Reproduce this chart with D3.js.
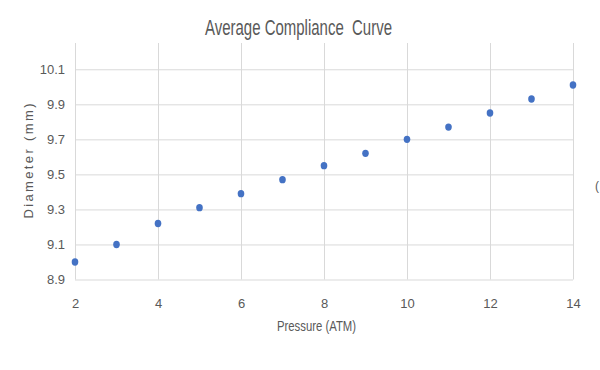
<!DOCTYPE html>
<html>
<head>
<meta charset="utf-8">
<script src="https://cdn.jsdelivr.net/npm/d3@7"></script>
<style>
  body { margin: 0; background: #fff; }
  text { font-family: "Liberation Sans Narrow", "Liberation Sans", sans-serif; fill: #595959; }
</style>
</head>
<body>
<div id="canvas"></div>
<script>
"use strict"

let drawingWidth = 600;
let drawingHeight = 370;

// chart data
let pressure = [2, 3, 4, 5, 6, 7, 8, 9, 10, 11, 12, 13, 14];
let diameter = [9.00, 9.10, 9.22, 9.31, 9.39, 9.47, 9.55, 9.62, 9.70, 9.77, 9.85, 9.93, 10.01];
let xTicks = [2, 4, 6, 8, 10, 12, 14];
let yTicks = [8.9, 9.1, 9.3, 9.5, 9.7, 9.9, 10.1];

let plotLeft = 75, plotRight = 573, plotTop = 43, plotBottom = 279.5;

let drawing = d3.select("#canvas")
    .append("svg")
    .attr("width", drawingWidth)
    .attr("height", drawingHeight);

drawing.append("rect")
    .attr("width", drawingWidth)
    .attr("height", drawingHeight)
    .attr("fill", "white");

let x = d3.scaleLinear().domain([2, 14]).range([plotLeft, plotRight]);
let y = d3.scaleLinear().domain([8.9, 10.25]).range([plotBottom, plotTop]);

/* vertical gridlines + x labels */
let xAxis = drawing.append("g")
    .attr("transform", "translate(0," + plotBottom + ")")
    .call(d3.axisBottom(x)
        .tickValues(xTicks)
        .tickSizeInner(-(plotBottom - plotTop))
        .tickSizeOuter(0)
        .tickPadding(19)
        .tickFormat(d3.format("d")));

/* horizontal gridlines + y labels */
let yAxis = drawing.append("g")
    .attr("transform", "translate(" + plotLeft + ",0)")
    .call(d3.axisLeft(y)
        .tickValues(yTicks)
        .tickSizeInner(-(plotRight - plotLeft))
        .tickSizeOuter(0)
        .tickPadding(10)
        .tickFormat(d3.format(".1f")));

drawing.selectAll(".domain").remove();
drawing.selectAll(".tick line")
    .attr("stroke", "#d9d9d9")
    .attr("stroke-width", 1);
drawing.selectAll(".tick text")
    .attr("font-size", 13)
    .attr("font-family", "'Liberation Sans Narrow', sans-serif")
    .attr("fill", "#595959");

/* points */
drawing.selectAll("ellipse.pt")
    .data(pressure)
    .enter()
    .append("ellipse")
    .attr("class", "pt")
    .attr("cx", (d) => x(d))
    .attr("cy", (d, i) => y(diameter[i]))
    .attr("rx", 3.3)
    .attr("ry", 3.7)
    .attr("fill", "#4472c4");

/* title and axis titles */
drawing.append("text")
    .attr("x", 298.5)
    .attr("y", 35)
    .attr("text-anchor", "middle")
    .attr("font-size", 22)
    .attr("textLength", 187)
    .attr("lengthAdjust", "spacingAndGlyphs")
    .attr("xml:space", "preserve")
    .text("Average Compliance  Curve");

drawing.append("text")
    .attr("x", 316.5)
    .attr("y", 331)
    .attr("text-anchor", "middle")
    .attr("font-size", 14)
    .attr("textLength", 79)
    .attr("lengthAdjust", "spacingAndGlyphs")
    .text("Pressure (ATM)");

drawing.append("text")
    .attr("transform", "translate(33,161) rotate(-90)")
    .attr("text-anchor", "middle")
    .attr("font-size", 13)
    .attr("textLength", 115)
    .attr("lengthAdjust", "spacing")
    .text("Diameter (mm)");

// cut-off glyph at the right edge
drawing.append("text")
    .attr("x", 595)
    .attr("y", 190)
    .attr("font-size", 12)
    .attr("fill", "#7f7f7f")
    .text("(");
</script>
</body>
</html>
